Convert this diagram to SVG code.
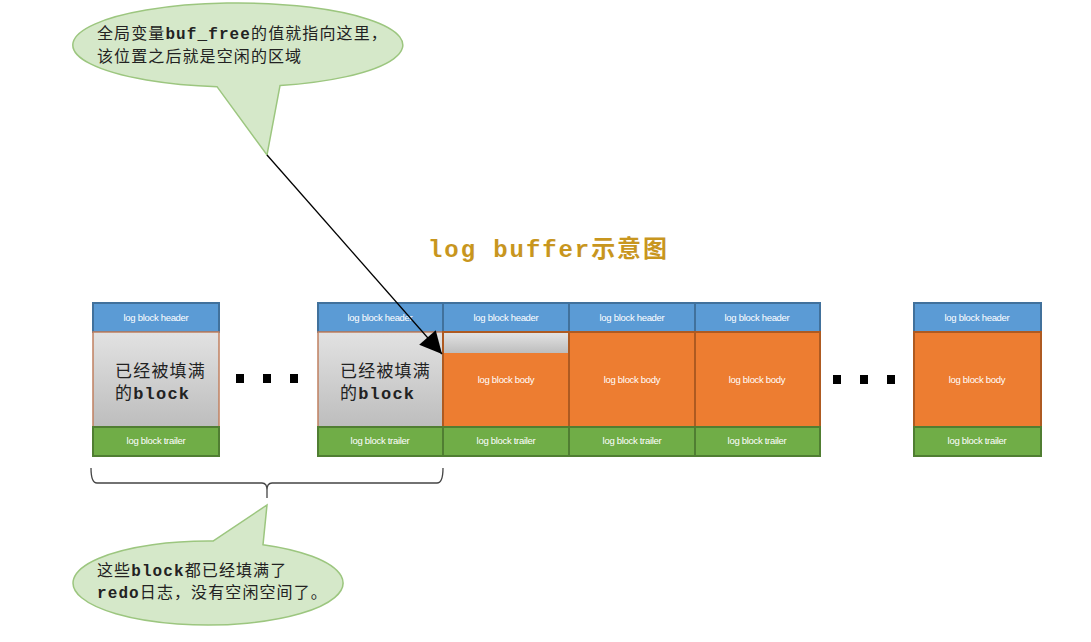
<svg xmlns="http://www.w3.org/2000/svg" width="1091" height="642" viewBox="0 0 1091 642">
<defs>
<linearGradient id="gray" x1="0" y1="0" x2="0" y2="1">
<stop offset="0" stop-color="#E2E2E2"/><stop offset="1" stop-color="#BDBDBD"/>
</linearGradient>
<marker id="arrbig" viewBox="0 0 10 10" refX="10" refY="5" markerWidth="26" markerHeight="22" markerUnits="userSpaceOnUse" orient="auto">
<path d="M0,0 L10,5 L0,10 z" fill="#000"/>
</marker>
</defs>
<style>
.hdr{fill:#5B9BD5;stroke:#41719C;stroke-width:2}
.body{fill:#ED7D31;stroke:#AE5A21;stroke-width:2}
.trl{fill:#70AD47;stroke:#507E32;stroke-width:2}
.full{fill:url(#gray);stroke:#C08060;stroke-width:1.5}
.lbl{font-family:"Liberation Sans",Arial,sans-serif;font-size:9.5px;fill:#FFFFFF;text-anchor:middle;letter-spacing:-0.3px}
.cn{font-family:"Liberation Mono","Noto Sans CJK SC",monospace;font-size:17px;fill:#222;letter-spacing:1.2px}
.note{font-family:"Liberation Mono","Noto Sans CJK SC",monospace;font-size:16px;fill:#222;letter-spacing:1.1px}
.b{font-weight:bold}
.bub{fill:#D5E8C9;stroke:#9CC67F;stroke-width:1.5}
.dot{fill:#000}
</style>

<text x="428" y="257" font-family="Liberation Mono,'Noto Sans CJK SC',monospace" font-size="24" font-weight="bold" fill="#C8961E" textLength="239">log buffer示意图</text>

<g id="bubble-top">
<path class="bub" d="M217,86.66 A165,42 0 1 1 280,85.6 L267,155 Z"/>
<text class="note" x="97" y="39">全局变量<tspan class="b">buf_free</tspan>的值就指向这里，</text>
<text class="note" x="97" y="62">该位置之后就是空闲的区域</text>
</g>

<g id="block-full-1">
<rect class="hdr" x="93" y="303" width="126" height="29"/>
<text class="lbl" x="156" y="321">log block header</text>
<rect class="full" x="93" y="332" width="126" height="95"/>
<text class="cn" x="115" y="377">已经被填满</text>
<text class="cn" x="115" y="399">的<tspan class="b">block</tspan></text>
<rect class="trl" x="93" y="427" width="126" height="29"/>
<text class="lbl" x="156" y="444">log block trailer</text>
</g>

<g id="dots-left">
<rect class="dot" x="236" y="374" width="8" height="9"/>
<rect class="dot" x="263" y="374" width="8" height="9"/>
<rect class="dot" x="290" y="374" width="8" height="9"/>
</g>

<g id="block-full-2">
<rect class="hdr" x="318" y="303" width="125" height="29"/>
<text class="lbl" x="380" y="321">log block header</text>
<rect class="full" x="318" y="332" width="125" height="95"/>
<text class="cn" x="340" y="377">已经被填满</text>
<text class="cn" x="340" y="399">的<tspan class="b">block</tspan></text>
<rect class="trl" x="318" y="427" width="125" height="29"/>
<text class="lbl" x="380" y="444">log block trailer</text>
</g>

<g id="block-current">
<rect class="hdr" x="443" y="303" width="126" height="29"/>
<text class="lbl" x="506" y="321">log block header</text>
<rect class="body" x="443" y="332" width="126" height="95"/>
<rect x="444" y="333" width="124" height="20" fill="url(#gray)"/>
<text class="lbl" x="506" y="383">log block body</text>
<rect class="trl" x="443" y="427" width="126" height="29"/>
<text class="lbl" x="506" y="444">log block trailer</text>
</g>

<g id="block-free-1">
<rect class="hdr" x="569" y="303" width="126" height="29"/>
<text class="lbl" x="632" y="321">log block header</text>
<rect class="body" x="569" y="332" width="126" height="95"/>
<text class="lbl" x="632" y="383">log block body</text>
<rect class="trl" x="569" y="427" width="126" height="29"/>
<text class="lbl" x="632" y="444">log block trailer</text>
</g>

<g id="block-free-2">
<rect class="hdr" x="695" y="303" width="125" height="29"/>
<text class="lbl" x="757" y="321">log block header</text>
<rect class="body" x="695" y="332" width="125" height="95"/>
<text class="lbl" x="757" y="383">log block body</text>
<rect class="trl" x="695" y="427" width="125" height="29"/>
<text class="lbl" x="757" y="444">log block trailer</text>
</g>

<g id="dots-right">
<rect class="dot" x="833" y="375" width="8" height="9"/>
<rect class="dot" x="860" y="375" width="8" height="9"/>
<rect class="dot" x="887" y="375" width="8" height="9"/>
</g>

<g id="block-last">
<rect class="hdr" x="914" y="303" width="127" height="29"/>
<text class="lbl" x="977" y="321">log block header</text>
<rect class="body" x="914" y="332" width="127" height="95"/>
<text class="lbl" x="977" y="383">log block body</text>
<rect class="trl" x="914" y="427" width="127" height="29"/>
<text class="lbl" x="977" y="444">log block trailer</text>
</g>

<g id="brace">
<path d="M91,468 Q91,483 97,483 L262,483 Q267,483 267,490 L267,498 M267,490 Q267,483 272,483 L437,483 Q443,483 443,468" fill="none" stroke="#444" stroke-width="1.3"/>
</g>

<g id="bubble-bottom">
<path class="bub" d="M213,541.03 L267,505 L263,544.64 A135,42 0 1 1 213,541.03 Z"/>
<text class="note" x="97" y="576">这些<tspan class="b">block</tspan>都已经填满了</text>
<text class="note" x="97" y="598"><tspan class="b">redo</tspan>日志，没有空闲空间了。</text>
</g>

<g id="connectors">
<line x1="267" y1="155" x2="442" y2="354" stroke="#000" stroke-width="1.3" marker-end="url(#arrbig)"/>
</g>
</svg>
